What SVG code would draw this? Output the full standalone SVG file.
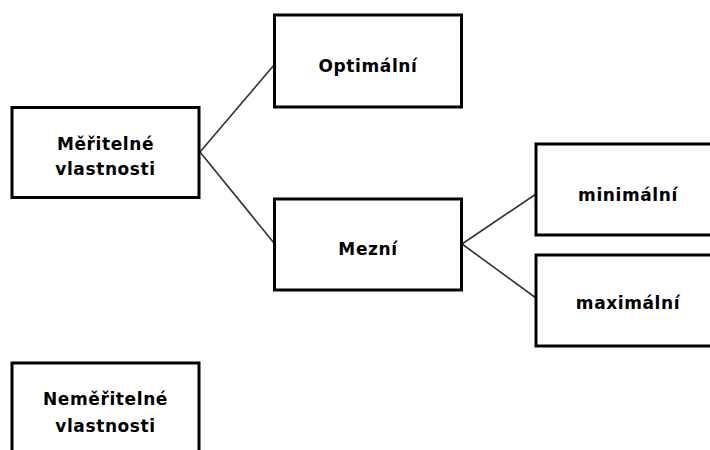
<svg xmlns="http://www.w3.org/2000/svg" width="710" height="450" viewBox="0 0 710 450">
<style>
.box{fill:#fff;stroke:#000;stroke-width:3}
.lbl{font-family:"DejaVu Sans",sans-serif;font-weight:bold;font-size:17px;fill:#000;text-anchor:middle;letter-spacing:0.6px}
.conn{stroke:#333;stroke-width:1.6;fill:none}
</style>
<rect width="710" height="450" fill="#fff"/>
<g id="connectors">
<line class="conn" x1="200" y1="152" x2="274" y2="65"/>
<line class="conn" x1="200" y1="152" x2="274" y2="243"/>
<line class="conn" x1="462" y1="244" x2="536" y2="194"/>
<line class="conn" x1="462" y1="244" x2="536" y2="298"/>
</g>
<g id="meritelne">
<rect class="box" x="12" y="107.5" width="187" height="90"/>
<text class="lbl" x="105.5" y="150">Měřitelné</text>
<text class="lbl" x="105.5" y="175">vlastnosti</text>
</g>
<g id="optimalni">
<rect class="box" x="274.5" y="15" width="187" height="92"/>
<text class="lbl" x="368" y="72">Optimální</text>
</g>
<g id="mezni">
<rect class="box" x="274.5" y="199" width="187" height="91"/>
<text class="lbl" x="368" y="255">Mezní</text>
</g>
<g id="minimalni">
<rect class="box" x="536" y="144" width="190" height="91"/>
<text class="lbl" x="628" y="201">minimální</text>
</g>
<g id="maximalni">
<rect class="box" x="536" y="255" width="190" height="91"/>
<text class="lbl" x="628" y="309">maximální</text>
</g>
<g id="nemeritelne">
<rect class="box" x="12" y="363" width="187" height="100"/>
<text class="lbl" x="105.5" y="405">Neměřitelné</text>
<text class="lbl" x="105.5" y="432">vlastnosti</text>
</g>
</svg>
